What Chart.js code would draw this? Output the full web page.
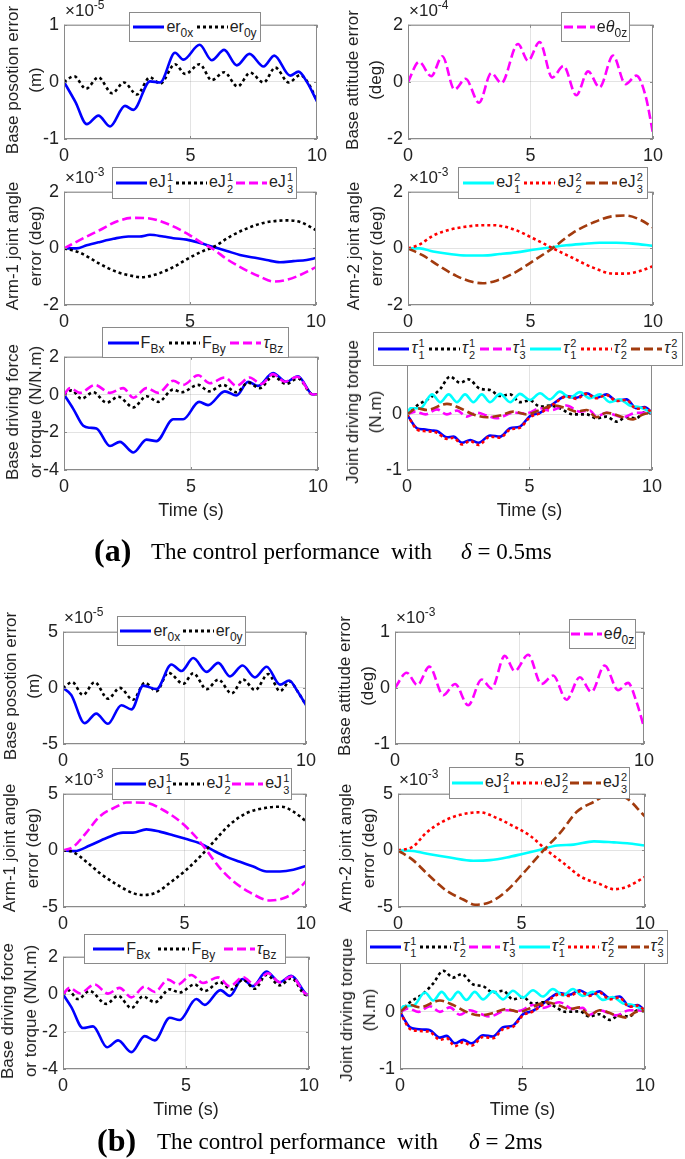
<!DOCTYPE html>
<html>
<head>
<meta charset="utf-8">
<script src="https://cdn.jsdelivr.net/npm/chart.js@4.4.1/dist/chart.umd.min.js"></script>
<style>
body { margin:0; background:#fff; width:685px; height:1159px; position:relative; overflow:hidden;
       font-family:"Liberation Sans", Arial, sans-serif; color:#222; }
canvas.plot { position:absolute; }
.ytitle { position:absolute; transform:translate(-50%,-50%) rotate(-90deg); text-align:center;
          font-size:17px; line-height:23px; white-space:nowrap; }
.xtitle { position:absolute; transform:translate(-50%,-50%); font-size:18px; white-space:nowrap; }
.exp { position:absolute; font-size:17px; line-height:16px; white-space:nowrap; }
.exp sup { font-size:12px; vertical-align:7px; line-height:0; }
.legend { position:absolute; background:#fff; border:1px solid #8a8a8a; box-sizing:border-box; z-index:5;
          display:flex; align-items:center; justify-content:space-evenly; font-size:16px; white-space:nowrap; }
.item { display:flex; align-items:center; }
.item svg { margin-right:2px; }
.legend sub { font-size:12px; vertical-align:-5px; line-height:0; }
.ss { display:inline-flex; flex-direction:column; font-size:11px; line-height:12px; margin-left:1px; vertical-align:6px; }
.caption { position:absolute; font-family:"Liberation Serif","Times New Roman",serif; color:#000; white-space:nowrap; }
</style>
</head>
<body>
<script>
// ---------- (a) delta = 0.5 ms ----------
// base position error (x1e-5 m)
const a_er0x_t = [0, 0.45, 0.9, 1.36, 1.82, 2.41, 2.74, 3.4, 3.8, 4.39, 4.72, 5.36, 5.84, 6.33, 6.83, 7.33, 7.89, 8.31, 8.94, 9.27, 9.6, 10];
const a_er0x   = [0, -0.35, -0.74, -0.59, -0.78, -0.42, -0.49, 0.01, -0.01, 0.51, 0.39, 0.65, 0.38, 0.56, 0.29, 0.49, 0.27, 0.46, 0.11, 0.18, 0.0, -0.34];
const a_er0y_t = [0, 0.4, 0.87, 1.36, 1.9, 2.37, 2.88, 3.4, 3.8, 4.39, 4.79, 5.36, 5.84, 6.33, 6.86, 7.36, 7.89, 8.35, 8.88, 9.34, 9.65, 10];
const a_er0y   = [0, 0.1, -0.12, 0.08, -0.2, -0.01, -0.22, 0.08, -0.03, 0.31, 0.14, 0.31, 0.03, 0.17, -0.08, 0.16, -0.01, 0.25, -0.01, 0.12, -0.02, -0.33];
// base attitude error (x1e-4 deg)
const a_eth_t = [0, 0.45, 0.95, 1.4, 1.9, 2.35, 2.9, 3.4, 3.81, 4.49, 4.9, 5.37, 5.89, 6.35, 6.87, 7.35, 7.82, 8.37, 8.88, 9.32, 9.7, 10];
const a_eth   = [0, 0.7, 0.2, 0.9, -0.27, 0.11, -0.73, 0.31, -0.04, 1.33, 0.74, 1.4, 0.15, 0.56, -0.47, 0.37, -0.19, 0.92, -0.08, 0.22, -0.5, -1.8];
// arm-1 joint angle error (x1e-3 deg)
const a_j11_t = [0, 0.5, 0.9, 1.43, 1.96, 2.55, 3.0, 3.41, 3.94, 4.34, 4.87, 5.4, 5.93, 6.46, 6.98, 7.51, 8.04, 8.57, 9.1, 9.63, 10];
const a_j11   = [0, 0.0, 0.11, 0.23, 0.34, 0.42, 0.42, 0.48, 0.42, 0.36, 0.31, 0.19, 0.05, -0.09, -0.23, -0.32, -0.41, -0.49, -0.45, -0.41, -0.34];
const a_j21_t = [0, 0.63, 1.43, 2.09, 2.75, 3.08, 3.68, 4.34, 5.0, 5.53, 5.93, 6.59, 7.25, 7.91, 8.84, 9.37, 10];
const a_j21   = [0, -0.15, -0.55, -0.83, -0.98, -1.02, -0.91, -0.66, -0.32, -0.09, 0.05, 0.42, 0.7, 0.9, 0.99, 0.93, 0.65];
const a_j31_t = [0, 0.77, 1.43, 2.09, 2.75, 3.28, 4.07, 4.87, 5.53, 5.93, 6.46, 7.12, 7.78, 8.31, 8.84, 9.37, 10];
const a_j31   = [0, 0.36, 0.65, 0.95, 1.08, 1.07, 0.88, 0.53, 0.16, -0.03, -0.38, -0.72, -1.0, -1.17, -1.11, -0.94, -0.66];
// arm-2 joint angle error (x1e-3 deg)
const a_j12_t = [0, 0.48, 1.02, 1.7, 2.38, 3.06, 3.74, 4.42, 5.1, 5.78, 6.46, 7.14, 7.82, 8.5, 9.18, 10];
const a_j12   = [0, 0.0, -0.11, -0.2, -0.25, -0.25, -0.2, -0.14, -0.05, 0.03, 0.11, 0.16, 0.2, 0.2, 0.17, 0.09];
const a_j22_t = [0, 0.48, 1.02, 1.7, 2.38, 3.06, 3.47, 4.29, 5.1, 5.92, 6.73, 7.55, 8.37, 8.91, 9.46, 10];
const a_j22   = [0, 0.14, 0.45, 0.66, 0.77, 0.82, 0.82, 0.68, 0.36, 0.0, -0.34, -0.68, -0.89, -0.89, -0.8, -0.63];
const a_j32_t = [0, 0.61, 1.29, 1.97, 2.65, 3.06, 3.61, 4.29, 5.1, 5.92, 6.73, 7.55, 8.37, 8.91, 9.46, 10];
const a_j32   = [0, -0.25, -0.63, -0.97, -1.19, -1.23, -1.14, -0.89, -0.45, 0.02, 0.55, 0.91, 1.14, 1.16, 1.02, 0.74];
// base driving force / torque (N, N.m)
const a_fbx_t = [0, 0.37, 0.76, 1.02, 1.28, 1.81, 2.2, 2.73, 3.25, 3.64, 4.3, 4.69, 5.32, 5.67, 6.33, 6.79, 7.25, 7.64, 8.23, 8.75, 9.21, 9.8, 10];
const a_fbx   = [0, -0.77, -1.66, -1.76, -1.8, -2.73, -2.51, -3.07, -2.39, -2.47, -1.31, -1.31, -0.39, -0.56, 0.17, -0.05, 0.68, 0.46, 1.14, 0.68, 0.97, 0, 0];
const a_fby_t = [0, 0.3, 0.69, 1.15, 1.68, 2.14, 2.73, 3.25, 3.71, 4.3, 4.63, 5.28, 5.71, 6.26, 6.79, 7.25, 7.71, 8.23, 8.75, 9.21, 9.8, 10];
const a_fby   = [0, 0.22, -0.22, 0.12, -0.43, -0.12, -0.68, -0.09, -0.39, 0.26, 0.12, 0.51, 0.17, 0.51, 0.12, 0.63, 0.34, 0.97, 0.56, 0.85, 0, 0];
const a_tbz_t = [0, 0.24, 0.63, 1.22, 1.81, 2.33, 2.73, 3.25, 3.71, 4.3, 4.69, 5.28, 5.74, 6.33, 6.79, 7.31, 7.77, 8.23, 8.69, 9.19, 9.8, 10];
const a_tbz   = [0, 0.34, 0.09, 0.51, 0.09, 0.34, -0.17, 0.34, 0.09, 0.73, 0.51, 1.02, 0.6, 0.9, 0.46, 0.9, 0.56, 1.08, 0.68, 0.94, 0, 0];
// joint driving torque (N.m)
const a_t11_t = [0, 0.41, 0.68, 1.02, 1.22, 1.63, 1.9, 2.24, 2.58, 2.92, 3.39, 3.8, 4.21, 4.61, 5.02, 5.43, 5.97, 6.51, 6.92, 7.33, 7.73, 8.14, 8.55, 8.96, 9.36, 9.7, 10];
const a_t11   = [0, -0.25, -0.27, -0.29, -0.3, -0.41, -0.4, -0.51, -0.46, -0.51, -0.38, -0.4, -0.25, -0.22, -0.03, 0.03, 0.19, 0.33, 0.3, 0.38, 0.3, 0.36, 0.25, 0.27, 0.11, 0.13, 0.03];
const a_t22   = [0, -0.27, -0.3, -0.31, -0.33, -0.44, -0.42, -0.54, -0.48, -0.55, -0.4, -0.42, -0.27, -0.24, -0.05, 0.02, 0.18, 0.32, 0.28, 0.37, 0.29, 0.35, 0.24, 0.26, 0.1, 0.12, 0.03];
const a_t21_t = [0, 0.41, 0.95, 1.36, 1.76, 2.17, 2.51, 2.99, 3.39, 3.8, 4.21, 4.61, 5.02, 5.43, 5.83, 6.24, 6.78, 7.33, 7.73, 8.14, 8.55, 8.96, 9.36, 9.7, 10];
const a_t21   = [0, 0.16, 0.3, 0.46, 0.68, 0.57, 0.63, 0.46, 0.44, 0.33, 0.36, 0.22, 0.25, 0.14, 0.16, 0.11, 0.0, 0.0, -0.07, -0.04, -0.13, -0.05, -0.07, 0.04, 0.03];
const a_t31_t = [0, 0.34, 0.75, 1.22, 1.63, 2.04, 2.44, 2.85, 3.26, 3.66, 4.34, 4.88, 5.43, 5.83, 6.51, 7.06, 7.46, 7.73, 8.14, 8.82, 9.36, 10];
const a_t31   = [0, 0.05, 0.0, 0.09, 0.0, 0.07, -0.04, 0.03, -0.02, -0.07, 0.03, 0.02, 0.11, 0.07, 0.16, 0.05, 0.07, -0.04, 0.03, -0.05, 0.03, 0.03];
const a_t12_t = [0, 0.14, 0.54, 1.02, 1.36, 1.7, 2.04, 2.37, 2.71, 3.05, 3.39, 3.8, 4.21, 4.61, 5.02, 5.43, 5.83, 6.24, 6.65, 7.06, 7.46, 7.87, 8.28, 8.68, 9.09, 9.5, 10];
const a_t12   = [0, 0.11, 0.11, 0.36, 0.22, 0.36, 0.22, 0.36, 0.22, 0.36, 0.22, 0.37, 0.22, 0.37, 0.26, 0.38, 0.27, 0.41, 0.3, 0.4, 0.29, 0.36, 0.22, 0.27, 0.16, 0.13, 0.03];
const a_t32_t = [0, 0.41, 0.81, 1.63, 2.17, 2.71, 3.26, 3.8, 4.34, 4.88, 5.43, 5.97, 6.51, 6.92, 7.33, 7.73, 8.14, 8.82, 9.23, 9.63, 10];
const a_t32   = [0, 0.11, 0.08, 0.19, 0.11, 0.0, -0.05, -0.02, 0.05, 0.0, 0.08, 0.16, 0.11, 0.05, 0.08, -0.05, 0.03, -0.05, -0.09, 0.0, 0.03];

// ---------- (b) delta = 2 ms ----------
const b_er0x_t = [0, 0.34, 0.89, 1.37, 1.85, 2.4, 2.82, 3.3, 3.85, 4.46, 4.88, 5.36, 5.91, 6.39, 6.87, 7.39, 7.9, 8.38, 8.93, 9.31, 9.65, 10];
const b_er0x   = [0, -0.63, -3.14, -2.29, -3.2, -1.54, -1.91, 0.2, -0.11, 2.09, 1.51, 2.66, 1.43, 2.23, 1.03, 2.0, 0.94, 1.89, 0.29, 0.66, -0.3, -1.54];
const b_er0y_t = [0, 0.38, 0.82, 1.3, 1.85, 2.34, 2.88, 3.37, 3.85, 4.33, 4.95, 5.36, 5.91, 6.39, 6.94, 7.42, 7.9, 8.45, 8.93, 9.34, 9.65, 10];
const b_er0y   = [0, 0.51, -0.63, 0.51, -0.97, 0.0, -1.06, 0.46, -0.29, 1.37, 0.37, 1.31, -0.11, 0.74, -0.49, 0.74, -0.2, 1.23, -0.29, 0.57, -0.3, -1.54];
const b_eth_t = [0, 0.47, 0.9, 1.38, 1.94, 2.41, 2.94, 3.48, 3.88, 4.41, 4.81, 5.35, 5.88, 6.35, 6.89, 7.42, 7.89, 8.42, 8.96, 9.36, 9.7, 10];
const b_eth   = [0, 0.27, 0.05, 0.38, -0.13, 0.07, -0.31, 0.15, -0.01, 0.57, 0.3, 0.59, 0.07, 0.22, -0.21, 0.19, -0.07, 0.4, -0.04, 0.09, -0.25, -0.7];
const b_j11_t = [0, 0.48, 1.1, 1.79, 2.47, 2.88, 3.43, 3.98, 4.53, 5.08, 5.63, 6.18, 6.73, 7.28, 7.83, 8.38, 8.93, 9.48, 10];
const b_j11   = [0, -0.06, 0.43, 1.09, 1.57, 1.57, 1.86, 1.66, 1.34, 1.0, 0.63, 0.0, -0.57, -1.0, -1.43, -1.86, -1.86, -1.71, -1.37];
const b_j21_t = [0, 0.41, 0.96, 1.51, 2.2, 2.88, 3.3, 3.85, 4.4, 5.08, 5.63, 6.18, 6.87, 7.55, 8.38, 9.0, 9.48, 10];
const b_j21   = [0, -0.14, -1.0, -2.0, -3.0, -3.77, -3.94, -3.71, -2.86, -1.71, -0.57, 0.71, 2.29, 3.29, 3.77, 3.86, 3.43, 2.57];
const b_j31_t = [0, 0.41, 0.96, 1.51, 2.2, 2.61, 3.43, 4.12, 4.81, 5.49, 5.91, 6.46, 7.0, 7.69, 8.52, 9.07, 9.62, 10];
const b_j31   = [0, 0.29, 1.57, 3.0, 3.86, 4.23, 4.2, 3.57, 2.57, 1.14, 0.0, -1.57, -2.71, -3.71, -4.43, -4.23, -3.57, -2.71];
const b_j12_t = [0, 0.61, 1.29, 2.1, 3.05, 3.73, 4.4, 5.08, 5.76, 6.44, 7.11, 7.93, 8.74, 9.28, 10];
const b_j12   = [0, -0.06, -0.34, -0.63, -0.91, -0.86, -0.63, -0.29, 0.06, 0.43, 0.51, 0.8, 0.71, 0.63, 0.43];
const b_j22_t = [0, 0.61, 1.15, 1.83, 2.51, 3.32, 4.0, 4.67, 5.35, 6.03, 6.71, 7.38, 8.2, 8.74, 9.28, 10];
const b_j22   = [0, 0.34, 1.57, 2.57, 3.14, 3.37, 2.86, 2.14, 1.29, 0.0, -1.14, -2.29, -3.0, -3.43, -3.2, -2.34];
const b_j32_t = [0, 0.61, 1.29, 1.97, 2.64, 3.12, 3.73, 4.4, 5.08, 5.89, 6.57, 7.25, 7.93, 8.47, 9.15, 10];
const b_j32   = [0, -0.86, -2.29, -3.57, -4.34, -4.8, -4.57, -3.57, -2.0, 0.0, 1.57, 3.43, 4.29, 4.86, 4.71, 3.0];
const b_fbx_t = [0, 0.34, 0.81, 1.22, 1.79, 2.24, 2.78, 3.32, 3.73, 4.34, 4.74, 5.42, 5.76, 6.4, 6.78, 7.29, 7.72, 8.27, 8.81, 9.28, 9.89, 10];
const b_fbx   = [0, -0.69, -1.81, -1.72, -2.84, -2.47, -3.1, -2.24, -2.47, -1.26, -1.38, -0.26, -0.57, 0.22, -0.09, 0.81, 0.43, 1.21, 0.64, 0.98, 0, -0.05];
const b_fby_t = [0, 0.2, 0.61, 1.08, 1.76, 2.24, 2.78, 3.25, 3.73, 4.34, 4.74, 5.35, 5.76, 6.37, 6.84, 7.32, 7.79, 8.27, 8.81, 9.28, 9.89, 10];
const b_fby   = [0, 0.22, -0.26, 0.17, -0.52, -0.09, -0.74, -0.12, -0.43, 0.26, 0.09, 0.52, 0.17, 0.64, 0.26, 0.78, 0.29, 1.03, 0.47, 0.86, -0.05, -0.05];
const b_tbz_t = [0, 0.27, 0.68, 1.29, 1.83, 2.3, 2.78, 3.32, 3.73, 4.27, 4.67, 5.22, 5.69, 6.3, 6.78, 7.32, 7.79, 8.33, 8.81, 9.28, 9.89, 10];
const b_tbz   = [0, 0.34, 0.05, 0.52, 0.03, 0.34, -0.17, 0.4, 0.12, 0.78, 0.52, 1.03, 0.6, 0.9, 0.43, 0.91, 0.52, 1.12, 0.64, 0.95, 0, -0.02];
const b_t11_t = [0, 0.41, 0.68, 1.02, 1.22, 1.63, 1.9, 2.24, 2.58, 2.92, 3.39, 3.8, 4.21, 4.61, 5.02, 5.43, 5.97, 6.51, 6.92, 7.33, 7.73, 8.14, 8.55, 8.96, 9.36, 9.7, 10];
const b_t11   = [0, -0.27, -0.3, -0.31, -0.32, -0.45, -0.42, -0.55, -0.49, -0.55, -0.41, -0.43, -0.27, -0.24, -0.04, 0.02, 0.19, 0.33, 0.3, 0.38, 0.3, 0.36, 0.24, 0.27, 0.1, 0.12, 0.02];
const b_t22   = [0, -0.3, -0.33, -0.34, -0.35, -0.49, -0.46, -0.6, -0.53, -0.59, -0.44, -0.46, -0.3, -0.26, -0.06, 0.01, 0.17, 0.31, 0.28, 0.36, 0.28, 0.34, 0.22, 0.25, 0.09, 0.11, 0.02];
const b_t21_t = [0, 0.41, 0.95, 1.36, 1.76, 2.17, 2.51, 2.99, 3.39, 3.8, 4.21, 4.61, 5.02, 5.43, 5.83, 6.24, 6.78, 7.33, 7.73, 8.14, 8.55, 8.96, 9.36, 9.7, 10];
const b_t21   = [0, 0.17, 0.32, 0.5, 0.72, 0.6, 0.66, 0.48, 0.45, 0.34, 0.37, 0.22, 0.26, 0.14, 0.17, 0.11, 0.0, 0.01, -0.08, -0.04, -0.14, -0.06, -0.08, 0.03, 0.02];
const b_t31_t = [0, 0.34, 0.75, 1.22, 1.63, 2.04, 2.44, 2.85, 3.26, 3.66, 4.34, 4.88, 5.43, 5.83, 6.51, 7.06, 7.46, 7.73, 8.14, 8.82, 9.36, 10];
const b_t31   = [0, 0.06, 0.0, 0.1, 0.0, 0.08, -0.05, 0.03, -0.03, -0.08, 0.03, 0.02, 0.12, 0.07, 0.17, 0.05, 0.07, -0.05, 0.03, -0.06, 0.03, 0.02];
const b_t12_t = [0, 0.14, 0.54, 1.02, 1.36, 1.7, 2.04, 2.37, 2.71, 3.05, 3.39, 3.8, 4.21, 4.61, 5.02, 5.43, 5.83, 6.24, 6.65, 7.06, 7.46, 7.87, 8.28, 8.68, 9.09, 9.5, 10];
const b_t12   = [0, 0.1, 0.11, 0.34, 0.2, 0.35, 0.21, 0.35, 0.21, 0.35, 0.22, 0.36, 0.22, 0.37, 0.25, 0.38, 0.27, 0.4, 0.29, 0.4, 0.28, 0.35, 0.21, 0.26, 0.15, 0.12, 0.02];
const b_t32_t = [0, 0.41, 0.81, 1.63, 2.17, 2.71, 3.26, 3.8, 4.34, 4.88, 5.43, 5.97, 6.51, 6.92, 7.33, 7.73, 8.14, 8.82, 9.23, 9.63, 10];
const b_t32   = [0, 0.12, 0.08, 0.2, 0.12, 0.0, -0.06, -0.02, 0.05, 0.0, 0.09, 0.17, 0.11, 0.05, 0.08, -0.06, 0.03, -0.06, -0.1, 0.0, 0.02];

const xTicks = [0, 5, 10];

// line styles
const BLUE = '#0000ff', BLACK = '#000000', MAG = '#ff00ff', CYAN = '#00ffff', RED = '#ff0000', BROWN = '#a23b0e';
const SOLID = [], DOT = [3, 3], DASH = [9, 4];

// box + inner ticks, MATLAB style
const boxPlugin = {
    id: 'box',
    afterDraw(chart) {
        const { ctx, chartArea: a, scales } = chart;
        ctx.save();
        ctx.strokeStyle = '#8a8a8a';
        ctx.lineWidth = 1;
        ctx.strokeRect(a.left + 0.5, a.top + 0.5, a.right - a.left - 1, a.bottom - a.top - 1);
        ctx.beginPath();
        scales.x.ticks.forEach(t => {
            const px = Math.round(scales.x.getPixelForValue(t.value)) + 0.5;
            ctx.moveTo(px, a.bottom); ctx.lineTo(px, a.bottom - 3);
            ctx.moveTo(px, a.top); ctx.lineTo(px, a.top + 3);
        });
        scales.y.ticks.forEach(t => {
            const py = Math.round(scales.y.getPixelForValue(t.value)) + 0.5;
            ctx.moveTo(a.left, py); ctx.lineTo(a.left + 3, py);
            ctx.moveTo(a.right, py); ctx.lineTo(a.right - 3, py);
        });
        ctx.stroke();
        ctx.restore();
    }
};

function addDiv(cls, html, style) {
    const d = document.createElement('div');
    d.className = cls;
    d.innerHTML = html;
    Object.assign(d.style, style);
    document.body.appendChild(d);
    return d;
}

function sampleSvg(color, dash) {
    const da = dash.length ? `stroke-dasharray="${dash.join(' ')}"` : '';
    return `<svg width="31" height="8"><line x1="0" y1="4" x2="31" y2="4" stroke="${color}" stroke-width="3" ${da}/></svg>`;
}

// plot: rect = [x0, y0, x1, y1] of the axes box in page pixels
function makePlot(p) {
    const [x0, y0, x1, y1] = p.rect;
    const padL = 44, padT = 12, padR = 16, padB = 32;
    const cv = document.createElement('canvas');
    cv.className = 'plot';
    cv.width = x1 - x0 + padL + padR;
    cv.height = y1 - y0 + padT + padB;
    cv.style.left = (x0 - padL) + 'px';
    cv.style.top = (y0 - padT) + 'px';
    document.body.appendChild(cv);

    const tickFont = { family: '"Liberation Sans", Arial, sans-serif', size: 18 };
    new Chart(cv, {
        type: 'line',
        data: {
            datasets: p.series.map((s, i) => ({
                data: s.t.map((t, k) => ({ x: t, y: s.y[k] })),
                borderColor: s.color,
                borderDash: s.dash,
                borderWidth: s.w || 2.6,
                pointRadius: 0,
                fill: false,
                cubicInterpolationMode: 'monotone',
                order: -i
            }))
        },
        options: {
            responsive: false,
            animation: false,
            events: [],
            layout: { padding: { top: padT, right: padR, left: 0, bottom: 0 } },
            plugins: { legend: { display: false }, tooltip: { enabled: false } },
            scales: {
                x: {
                    type: 'linear', min: 0, max: 10,
                    afterBuildTicks: s => { s.ticks = xTicks.map(v => ({ value: v })); },
                    ticks: { font: tickFont, color: '#222', padding: 6, maxRotation: 0 },
                    grid: { color: 'rgba(0,0,0,0.11)', drawTicks: false },
                    border: { display: false },
                    afterFit: s => { s.height = padB; }
                },
                y: {
                    type: 'linear', min: p.ymin, max: p.ymax,
                    ticks: {
                        stepSize: p.ystep, font: tickFont, color: '#222', padding: 5,
                        callback: v => (p.hideTop && v === p.ymax) ? '' : String(v)
                    },
                    grid: { color: 'rgba(0,0,0,0.11)', drawTicks: false },
                    border: { display: false },
                    afterFit: s => { s.width = padL; }
                }
            }
        },
        plugins: [boxPlugin]
    });

    addDiv('ytitle', p.ytitle.join('<br>'), { left: p.yt[0] + 'px', top: p.yt[1] + 'px' });
    if (p.exp) addDiv('exp', '×10<sup>' + p.exp + '</sup>', { left: (x0 + 1) + 'px', top: (y0 - 18) + 'px' });
    if (p.xtitle) addDiv('xtitle', 'Time (s)', { left: ((x0 + x1) / 2) + 'px', top: (y1 + 40) + 'px' });

    const lg = p.legend;
    const items = p.series.map((s, i) => ({ s, i, label: lg.labels[i] }));
    if (lg.order) items.sort((u, v) => lg.order.indexOf(u.i) - lg.order.indexOf(v.i));
    addDiv('legend',
        items.map(it => `<span class="item">${sampleSvg(it.s.color, it.s.dash)}<span>${it.label}</span></span>`).join(''),
        { left: lg.box[0] + 'px', top: lg.box[1] + 'px', width: lg.box[2] + 'px', height: lg.box[3] + 'px' });
}

const st = (a, b) => `<span class="ss"><span>${a}</span><span>${b}</span></span>`;
const TAU = '<i>τ</i>';

// ---------------- panel (a) ----------------
makePlot({
    rect: [64, 21, 317, 139], ymin: -1, ymax: 1, ystep: 1, exp: '-5',
    ytitle: ['Base posotion error', '(m)'], yt: [24, 80],
    series: [
        { t: a_er0y_t, y: a_er0y, color: BLACK, dash: DOT },
        { t: a_er0x_t, y: a_er0x, color: BLUE, dash: SOLID }
    ],
    legend: { box: [129, 12, 132, 30], labels: ['er<sub>0y</sub>', 'er<sub>0x</sub>'], order: [1, 0] }
});
makePlot({
    rect: [408, 21, 653, 139], ymin: -2, ymax: 2, ystep: 2, exp: '-4',
    ytitle: ['Base attitude error', '(deg)'], yt: [364, 80],
    series: [{ t: a_eth_t, y: a_eth, color: MAG, dash: DASH }],
    legend: { box: [561, 12, 69, 30], labels: ['e<i>θ</i><sub>0z</sub>'] }
});
makePlot({
    rect: [64, 188, 316, 305], ymin: -2, ymax: 2, ystep: 2, exp: '-3',
    ytitle: ['Arm-1 joint angle', 'error (deg)'], yt: [24, 246],
    series: [
        { t: a_j11_t, y: a_j11, color: BLUE, dash: SOLID },
        { t: a_j21_t, y: a_j21, color: BLACK, dash: DOT },
        { t: a_j31_t, y: a_j31, color: MAG, dash: DASH }
    ],
    legend: { box: [112, 167, 185, 32], labels: ['eJ' + st(1, 1), 'eJ' + st(1, 2), 'eJ' + st(1, 3)] }
});
makePlot({
    rect: [408, 188, 653, 305], ymin: -2, ymax: 2, ystep: 2, exp: '-3',
    ytitle: ['Arm-2 joint angle', 'error (deg)'], yt: [365, 246],
    series: [
        { t: a_j12_t, y: a_j12, color: CYAN, dash: SOLID },
        { t: a_j22_t, y: a_j22, color: RED, dash: DOT },
        { t: a_j32_t, y: a_j32, color: BROWN, dash: DASH }
    ],
    legend: { box: [458, 167, 190, 32], labels: ['eJ' + st(2, 1), 'eJ' + st(2, 2), 'eJ' + st(2, 3)] }
});
makePlot({
    rect: [64, 353, 318, 470], ymin: -4, ymax: 2, ystep: 2, xtitle: true,
    ytitle: ['Base driving force', 'or torque (N/N.m)'], yt: [24, 412],
    series: [
        { t: a_fbx_t, y: a_fbx, color: BLUE, dash: SOLID },
        { t: a_fby_t, y: a_fby, color: BLACK, dash: DOT },
        { t: a_tbz_t, y: a_tbz, color: MAG, dash: DASH }
    ],
    legend: { box: [102, 327, 187, 31], labels: ['F<sub>Bx</sub>', 'F<sub>By</sub>', TAU + '<sub>Bz</sub>'] }
});
makePlot({
    rect: [407, 355, 652, 470], ymin: -1, ymax: 1, ystep: 1, xtitle: true, hideTop: true,
    ytitle: ['Joint driving torque', '(N.m)'], yt: [364, 412],
    series: [
        { t: a_t11_t, y: a_t11, color: BLUE, dash: SOLID },
        { t: a_t21_t, y: a_t21, color: BLACK, dash: DOT },
        { t: a_t31_t, y: a_t31, color: MAG, dash: DASH },
        { t: a_t12_t, y: a_t12, color: CYAN, dash: SOLID },
        { t: a_t11_t, y: a_t22, color: RED, dash: DOT },
        { t: a_t32_t, y: a_t32, color: BROWN, dash: DASH }
    ],
    legend: { box: [373, 332, 310, 34], labels: [TAU + st(1, 1), TAU + st(1, 2), TAU + st(1, 3), TAU + st(2, 1), TAU + st(2, 2), TAU + st(2, 3)] }
});

// ---------------- panel (b) ----------------
makePlot({
    rect: [63, 628, 306, 744], ymin: -5, ymax: 5, ystep: 5, exp: '-5',
    ytitle: ['Base posotion error', '(m)'], yt: [22, 686],
    series: [
        { t: b_er0y_t, y: b_er0y, color: BLACK, dash: DOT },
        { t: b_er0x_t, y: b_er0x, color: BLUE, dash: SOLID }
    ],
    legend: { box: [117, 616, 129, 30], labels: ['er<sub>0y</sub>', 'er<sub>0x</sub>'], order: [1, 0] }
});
makePlot({
    rect: [395, 628, 644, 744], ymin: -1, ymax: 1, ystep: 1, exp: '-3',
    ytitle: ['Base attitude error', '(deg)'], yt: [356, 686],
    series: [{ t: b_eth_t, y: b_eth, color: MAG, dash: DASH }],
    legend: { box: [569, 619, 67, 30], labels: ['e<i>θ</i><sub>0z</sub>'] }
});
makePlot({
    rect: [63, 790, 306, 907], ymin: -5, ymax: 5, ystep: 5, exp: '-3',
    ytitle: ['Arm-1 joint angle', 'error (deg)'], yt: [21, 848],
    series: [
        { t: b_j11_t, y: b_j11, color: BLUE, dash: SOLID },
        { t: b_j21_t, y: b_j21, color: BLACK, dash: DOT },
        { t: b_j31_t, y: b_j31, color: MAG, dash: DASH }
    ],
    legend: { box: [112, 768, 180, 32], labels: ['eJ' + st(1, 1), 'eJ' + st(1, 2), 'eJ' + st(1, 3)] }
});
makePlot({
    rect: [398, 790, 645, 907], ymin: -5, ymax: 5, ystep: 5, exp: '-3',
    ytitle: ['Arm-2 joint angle', 'error (deg)'], yt: [357, 848],
    series: [
        { t: b_j12_t, y: b_j12, color: CYAN, dash: SOLID },
        { t: b_j22_t, y: b_j22, color: RED, dash: DOT },
        { t: b_j32_t, y: b_j32, color: BROWN, dash: DASH }
    ],
    legend: { box: [449, 767, 181, 32], labels: ['eJ' + st(2, 1), 'eJ' + st(2, 2), 'eJ' + st(2, 3)] }
});
makePlot({
    rect: [63, 953, 309, 1069], ymin: -4, ymax: 2, ystep: 2, xtitle: true,
    ytitle: ['Base driving force', 'or torque (N/N.m)'], yt: [19, 1011],
    series: [
        { t: b_fbx_t, y: b_fbx, color: BLUE, dash: SOLID },
        { t: b_fby_t, y: b_fby, color: BLACK, dash: DOT },
        { t: b_tbz_t, y: b_tbz, color: MAG, dash: DASH }
    ],
    legend: { box: [84, 934, 202, 30], labels: ['F<sub>Bx</sub>', 'F<sub>By</sub>', TAU + '<sub>Bz</sub>'] }
});
makePlot({
    rect: [400, 951, 645, 1069], ymin: -1, ymax: 1, ystep: 1, xtitle: true, hideTop: true,
    ytitle: ['Joint driving torque', '(N.m)'], yt: [358, 1010],
    series: [
        { t: b_t11_t, y: b_t11, color: BLUE, dash: SOLID },
        { t: b_t21_t, y: b_t21, color: BLACK, dash: DOT },
        { t: b_t31_t, y: b_t31, color: MAG, dash: DASH },
        { t: b_t12_t, y: b_t12, color: CYAN, dash: SOLID },
        { t: b_t11_t, y: b_t22, color: RED, dash: DOT },
        { t: b_t32_t, y: b_t32, color: BROWN, dash: DASH }
    ],
    legend: { box: [366, 930, 302, 34], labels: [TAU + st(1, 1), TAU + st(1, 2), TAU + st(1, 3), TAU + st(2, 1), TAU + st(2, 2), TAU + st(2, 3)] }
});

// captions
addDiv('caption', '(a)', { left: '94px', top: '532px', fontSize: '32px', fontWeight: 'bold' });
addDiv('caption', 'The control performance&nbsp; with', { left: '151px', top: '539px', fontSize: '23px' });
addDiv('caption', '<i>δ</i> = 0.5ms', { left: '461px', top: '539px', fontSize: '23px' });
addDiv('caption', '(b)', { left: '97px', top: '1122px', fontSize: '32px', fontWeight: 'bold' });
addDiv('caption', 'The control performance&nbsp; with', { left: '157px', top: '1129px', fontSize: '23px' });
addDiv('caption', '<i>δ</i> = 2ms', { left: '469px', top: '1129px', fontSize: '23px' });
</script>
</body>
</html>
